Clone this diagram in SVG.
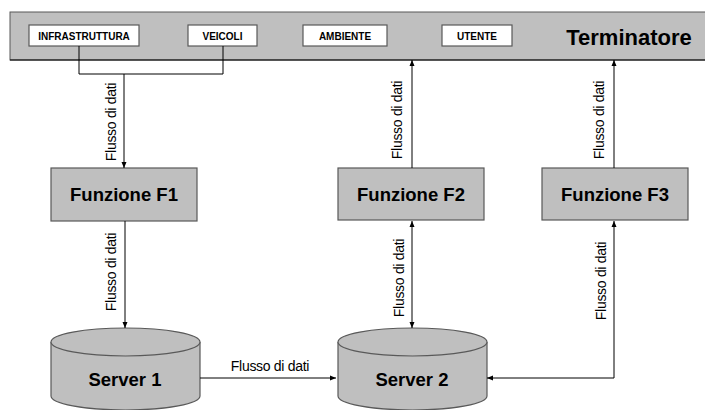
<svg xmlns="http://www.w3.org/2000/svg" width="705" height="410" viewBox="0 0 705 410">
<style>
.box{fill:#bfbfbf;stroke:#595959;stroke-width:1.2}
.tag{fill:#fff;stroke:#595959;stroke-width:1.2}
.tagt{font-family:"Liberation Sans",Arial,sans-serif;font-weight:bold;font-size:10px;fill:#000;text-anchor:middle}
.fn{font-family:"Liberation Sans",Arial,sans-serif;font-weight:bold;font-size:18.5px;fill:#000;text-anchor:middle}
.lbl{font-family:"Liberation Sans",Arial,sans-serif;font-size:14px;fill:#000;text-anchor:middle;letter-spacing:-0.3px}
.ln{fill:none;stroke:#000;stroke-width:1}
</style>
<defs>
<marker id="ah" viewBox="0 0 6 6" refX="6" refY="3" markerWidth="6" markerHeight="6" markerUnits="userSpaceOnUse" orient="auto-start-reverse">
<path d="M0,0.5 L6,3 L0,5.5 Z" fill="#000"/>
</marker>
</defs>
<g id="terminatore">
<rect x="10" y="12" width="700" height="48" fill="#bfbfbf" stroke="#595959" stroke-width="1"/>
<line x1="10" y1="60" x2="705" y2="60" stroke="#000" stroke-width="1.2"/>
<text x="629" y="45" font-family="'Liberation Sans',Arial,sans-serif" font-weight="bold" font-size="22" text-anchor="middle">Terminatore</text>
</g>
<g id="infrastruttura">
<rect class="tag" x="29" y="25" width="110" height="21"/>
<text class="tagt" x="84" y="39.5">INFRASTRUTTURA</text>
</g>
<g id="veicoli">
<rect class="tag" x="188" y="25" width="69" height="21"/>
<text class="tagt" x="222.5" y="39.5">VEICOLI</text>
</g>
<g id="ambiente">
<rect class="tag" x="303" y="25" width="84" height="21"/>
<text class="tagt" x="345" y="39.5">AMBIENTE</text>
</g>
<g id="utente">
<rect class="tag" x="442" y="25" width="70" height="21"/>
<text class="tagt" x="477" y="39.5">UTENTE</text>
</g>
<g id="f1">
<rect class="box" x="51" y="168" width="146" height="53"/>
<text class="fn" x="124" y="201">Funzione F1</text>
</g>
<g id="f2">
<rect class="box" x="338" y="168" width="146" height="52"/>
<text class="fn" x="411" y="201">Funzione F2</text>
</g>
<g id="f3">
<rect class="box" x="542" y="168" width="146" height="52"/>
<text class="fn" x="615" y="201">Funzione F3</text>
</g>
<g id="server1">
<path class="box" d="M51,342 L51,396 A74.5,14 0 0 0 200,396 L200,342"/>
<ellipse class="box" cx="125.5" cy="342" rx="74.5" ry="14"/>
<text class="fn" x="125" y="386">Server 1</text>
</g>
<g id="server2">
<path class="box" d="M338,342 L338,396 A74.5,14 0 0 0 487,396 L487,342"/>
<ellipse class="box" cx="412.5" cy="342" rx="74.5" ry="14"/>
<text class="fn" x="412" y="386">Server 2</text>
</g>
<g id="connectors">
<path class="ln" d="M79,46 V74 H223 V46"/>
<path class="ln" d="M124,74 V168" marker-end="url(#ah)"/>
<path class="ln" d="M125,221 V328" marker-end="url(#ah)"/>
<path class="ln" d="M412,168 V60" marker-end="url(#ah)"/>
<path class="ln" d="M614,168 V60" marker-end="url(#ah)"/>
<path class="ln" d="M412,221 V328" marker-start="url(#ah)" marker-end="url(#ah)"/>
<path class="ln" d="M614,221 V378 H487" marker-start="url(#ah)" marker-end="url(#ah)"/>
<path class="ln" d="M200,378 H336" marker-end="url(#ah)"/>
<text class="lbl" transform="translate(116,122) rotate(-90)">Flusso di dati</text>
<text class="lbl" transform="translate(116,272) rotate(-90)">Flusso di dati</text>
<text class="lbl" transform="translate(402,120) rotate(-90)">Flusso di dati</text>
<text class="lbl" transform="translate(604,120) rotate(-90)">Flusso di dati</text>
<text class="lbl" transform="translate(404,278) rotate(-90)">Flusso di dati</text>
<text class="lbl" transform="translate(606,281) rotate(-90)">Flusso di dati</text>
<text class="lbl" x="270" y="371">Flusso di dati</text>
</g>
</svg>
